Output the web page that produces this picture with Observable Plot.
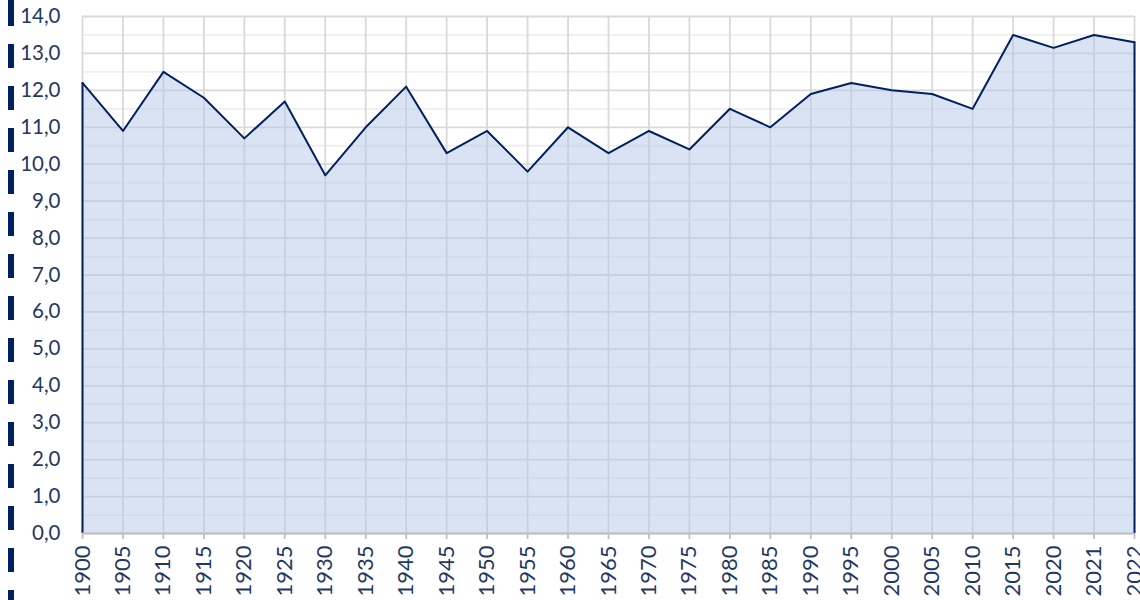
<!DOCTYPE html>
<html>
<head>
<meta charset="utf-8">
<script src="https://cdn.jsdelivr.net/npm/d3@7"></script>
<script src="https://cdn.jsdelivr.net/npm/@observablehq/plot@0.6"></script>
<style>
  html, body { margin: 0; padding: 0; background: #fff; overflow: hidden; }
  #wrap { position: relative; width: 1140px; height: 600px; }
  #bar { position: absolute; left: 8px; top: 0; width: 6px; height: 600px;
    background: repeating-linear-gradient(to bottom, #002060 0px, #002060 24px, transparent 24px, transparent 42px);
    background-position: 0 2px; }
  #chart { position: absolute; left: 0; top: 0; }
</style>
</head>
<body>
<div id="wrap"><div id="bar"></div><div id="chart"></div></div>
<script>
const years = ["1900","1905","1910","1915","1920","1925","1930","1935","1940","1945","1950","1955","1960","1965","1970","1975","1980","1985","1990","1995","2000","2005","2010","2015","2020","2021","2022"];
const values = [12.2,10.9,12.5,11.8,10.7,11.7,9.7,11.0,12.1,10.3,10.9,9.8,11.0,10.3,10.9,10.4,11.5,11.0,11.9,12.2,12.0,11.9,11.5,13.5,13.15,13.5,13.3];
const yTicks = [0,1,2,3,4,5,6,7,8,9,10,11,12,13,14];
const yMinor = [0.5,1.5,2.5,3.5,4.5,5.5,6.5,7.5,8.5,9.5,10.5,11.5,12.5,13.5];

const data = years.map((y, i) => ({i, year: y, value: values[i]}));
const idx = years.map((_, i) => i);
const navy = "#002060";
const textColor = "#1f3864";

const chart = Plot.plot({
  width: 1140,
  height: 600,
  marginLeft: 82,
  marginRight: 6,
  marginTop: 16,
  marginBottom: 67,
  style: {fontFamily: "Lato, 'Open Sans', sans-serif", fontSize: "20px", color: textColor, background: "transparent", overflow: "visible"},
  x: {type: "linear", domain: [0, years.length - 1]},
  y: {domain: [0, 14]},
  marks: [
    Plot.ruleY(yMinor, {stroke: "#efefef", strokeWidth: 1.8}),
    Plot.ruleY(yTicks, {stroke: "#d9d9d9", strokeWidth: 1.8}),
    Plot.ruleX(idx, {y1: 0, y2: 14, stroke: "#d9d9d9", strokeWidth: 1.8}),
    Plot.areaY(data, {x: "i", y: "value", fill: "#b4c7e7", fillOpacity: 0.5}),
    Plot.lineY(data, {x: "i", y: "value", stroke: navy, strokeWidth: 2}),
    Plot.ruleX([0], {y1: 0, y2: values[0], stroke: navy, strokeWidth: 2}),
    Plot.ruleX([years.length - 1], {y1: 0, y2: values[values.length - 1], stroke: navy, strokeWidth: 2}),
    Plot.ruleY([0], {stroke: "#bfbfbf", strokeWidth: 1.8}),
    Plot.axisY(yTicks, {tickSize: 0, tickPadding: 22, tickFormat: d => d.toFixed(1).replace(".", ","), fill: textColor, fontSize: 20.5, label: null}),
    Plot.axisX(idx, {tickSize: 6, tickPadding: 6, stroke: "#bfbfbf", strokeWidth: 1.8, tickRotate: -90, tickFormat: i => years[i], fill: textColor, fontSize: 22, label: null})
  ]
});
document.getElementById("chart").appendChild(chart);
</script>
</body>
</html>
